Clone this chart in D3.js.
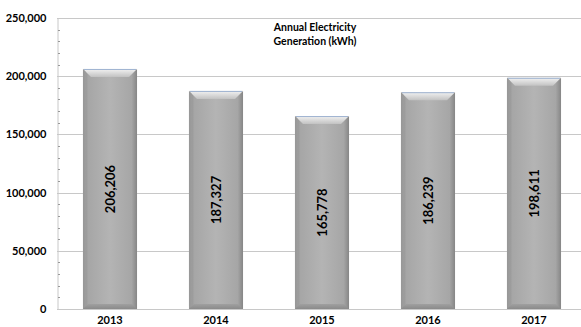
<!DOCTYPE html>
<html>
<head>
<meta charset="utf-8">
<script src="https://cdn.jsdelivr.net/npm/d3@7"></script>
<style>
  body { margin: 0; background: #fff; }
  svg { display: block; }
</style>
</head>
<body>
<div id="chart"></div>
<script>
const years = ["2013", "2014", "2015", "2016", "2017"];
const generation = [206206, 187327, 165778, 186239, 198611];
const yTicks = [0, 50000, 100000, 150000, 200000, 250000];
const titleLines = ["Annual Electricity", "Generation (kWh)"];

const width = 581, height = 327;
const margin = {top: 18, right: -6, bottom: 18, left: 57};

const svg = d3.select("#chart").append("svg")
  .attr("width", width)
  .attr("height", height);

const defs = svg.append("defs");

// body of the bar: darker at the sides, lighter in the middle
const body = defs.append("linearGradient").attr("id", "barBody")
  .attr("x1", "0").attr("x2", "1").attr("y1", "0").attr("y2", "0");
body.append("stop").attr("offset", "0").attr("stop-color", "#8a8a8a");
body.append("stop").attr("offset", "0.1").attr("stop-color", "#a6a6a6");
body.append("stop").attr("offset", "0.5").attr("stop-color", "#b4b4b4");
body.append("stop").attr("offset", "0.9").attr("stop-color", "#a6a6a6");
body.append("stop").attr("offset", "1").attr("stop-color", "#868686");

const topBevel = defs.append("linearGradient").attr("id", "barTop")
  .attr("x1", "0").attr("x2", "0").attr("y1", "0").attr("y2", "1");
topBevel.append("stop").attr("offset", "0").attr("stop-color", "#f2f2f2");
topBevel.append("stop").attr("offset", "1").attr("stop-color", "#c2c2c2");

const botBevel = defs.append("linearGradient").attr("id", "barBot")
  .attr("x1", "0").attr("x2", "0").attr("y1", "0").attr("y2", "1");
botBevel.append("stop").attr("offset", "0").attr("stop-color", "#a0a0a0");
botBevel.append("stop").attr("offset", "1").attr("stop-color", "#8a8a8a");

const x = d3.scaleBand()
  .domain(years)
  .range([margin.left, width - margin.right])
  .paddingInner(0.49)
  .paddingOuter(0.245);

const y = d3.scaleLinear()
  .domain([0, 250000])
  .range([height - margin.bottom, margin.top]);

// gridlines
svg.append("g")
  .selectAll("line")
  .data(yTicks)
  .join("line")
  .attr("x1", margin.left)
  .attr("x2", width)
  .attr("y1", d => Math.round(y(d)) + 0.5)
  .attr("y2", d => Math.round(y(d)) + 0.5)
  .attr("stroke", "#c8c8c8")
  .attr("stroke-width", 1);

// y axis
const yAxis = svg.append("g")
  .attr("transform", `translate(${margin.left + 0.5},0)`)
  .call(d3.axisLeft(y).tickValues(yTicks).tickSize(0).tickPadding(11)
    .tickFormat(d3.format(",")));
yAxis.select(".domain").attr("stroke", "#c8c8c8");
yAxis.selectAll("text")
  .attr("font-family", "Lato, 'Open Sans', sans-serif")
  .attr("font-weight", "bold")
  .attr("font-size", "11px")
  .attr("fill", "#000");

// minor ticks
const minor = d3.range(0, 250000, 10000).filter(d => d % 50000 !== 0);
svg.append("g")
  .selectAll("line")
  .data(minor)
  .join("line")
  .attr("x1", margin.left + 1)
  .attr("x2", margin.left + 3)
  .attr("y1", d => Math.round(y(d)) + 0.5)
  .attr("y2", d => Math.round(y(d)) + 0.5)
  .attr("stroke", "#999");

// x labels
svg.append("g")
  .selectAll("text")
  .data(years)
  .join("text")
  .attr("x", d => x(d) + x.bandwidth() / 2)
  .attr("y", 323.5)
  .attr("text-anchor", "middle")
  .attr("font-family", "Lato, 'Open Sans', sans-serif")
  .attr("font-weight", "bold")
  .attr("font-size", "11px")
  .text(d => d);

// bars with a bevel
const bev = 8, bevB = 5, side = 3;
const bars = svg.append("g")
  .selectAll("g")
  .data(years.map((yr, i) => ({year: yr, value: generation[i]})))
  .join("g");

bars.append("rect")
  .attr("x", d => x(d.year))
  .attr("y", d => y(d.value))
  .attr("width", x.bandwidth())
  .attr("height", d => y(0) - y(d.value))
  .attr("fill", "url(#barBody)");

bars.append("path")
  .attr("fill", "url(#barTop)")
  .attr("d", d => {
    const x0 = x(d.year), x1 = x0 + x.bandwidth(), t = y(d.value);
    return `M${x0},${t}L${x1},${t}L${x1 - bev},${t + bev}L${x0 + bev},${t + bev}Z`;
  });

bars.append("path")
  .attr("fill", "url(#barBot)")
  .attr("d", d => {
    const x0 = x(d.year), x1 = x0 + x.bandwidth(), b = y(0);
    return `M${x0},${b}L${x1},${b}L${x1 - bevB},${b - bevB}L${x0 + bevB},${b - bevB}Z`;
  });

// side edges
bars.append("path")
  .attr("fill", "#a0a0a0")
  .attr("opacity", 0.6)
  .attr("d", d => {
    const x0 = x(d.year), t = y(d.value), b = y(0);
    return `M${x0},${t}L${x0 + side},${t + side}L${x0 + side},${b - side}L${x0},${b}Z`;
  });

bars.append("line")
  .attr("x1", d => x(d.year) + 1)
  .attr("x2", d => x(d.year) + x.bandwidth() - 1)
  .attr("y1", d => y(d.value) + 0.5)
  .attr("y2", d => y(d.value) + 0.5)
  .attr("stroke", "#9fb3d1")
  .attr("stroke-width", 1);

bars.append("text")
  .attr("transform", d => `translate(${x(d.year) + x.bandwidth() / 2 + 4.5},${(y(d.value) + y(0)) / 2}) rotate(-90)`)
  .attr("text-anchor", "middle")
  .attr("font-family", "Lato, 'Open Sans', sans-serif")
  .attr("font-weight", "bold")
  .attr("font-size", "13px")
  .attr("fill", "#000")
  .text(d => d3.format(",")(d.value));

// title
svg.append("text")
  .attr("x", 315)
  .attr("y", 31)
  .attr("text-anchor", "middle")
  .attr("font-family", "Lato, 'Open Sans', sans-serif")
  .attr("font-weight", "bold")
  .attr("font-size", "10.5px")
  .selectAll("tspan")
  .data(titleLines)
  .join("tspan")
  .attr("x", 315)
  .attr("dy", (d, i) => i === 0 ? 0 : 14)
  .text(d => d);
</script>
</body>
</html>
